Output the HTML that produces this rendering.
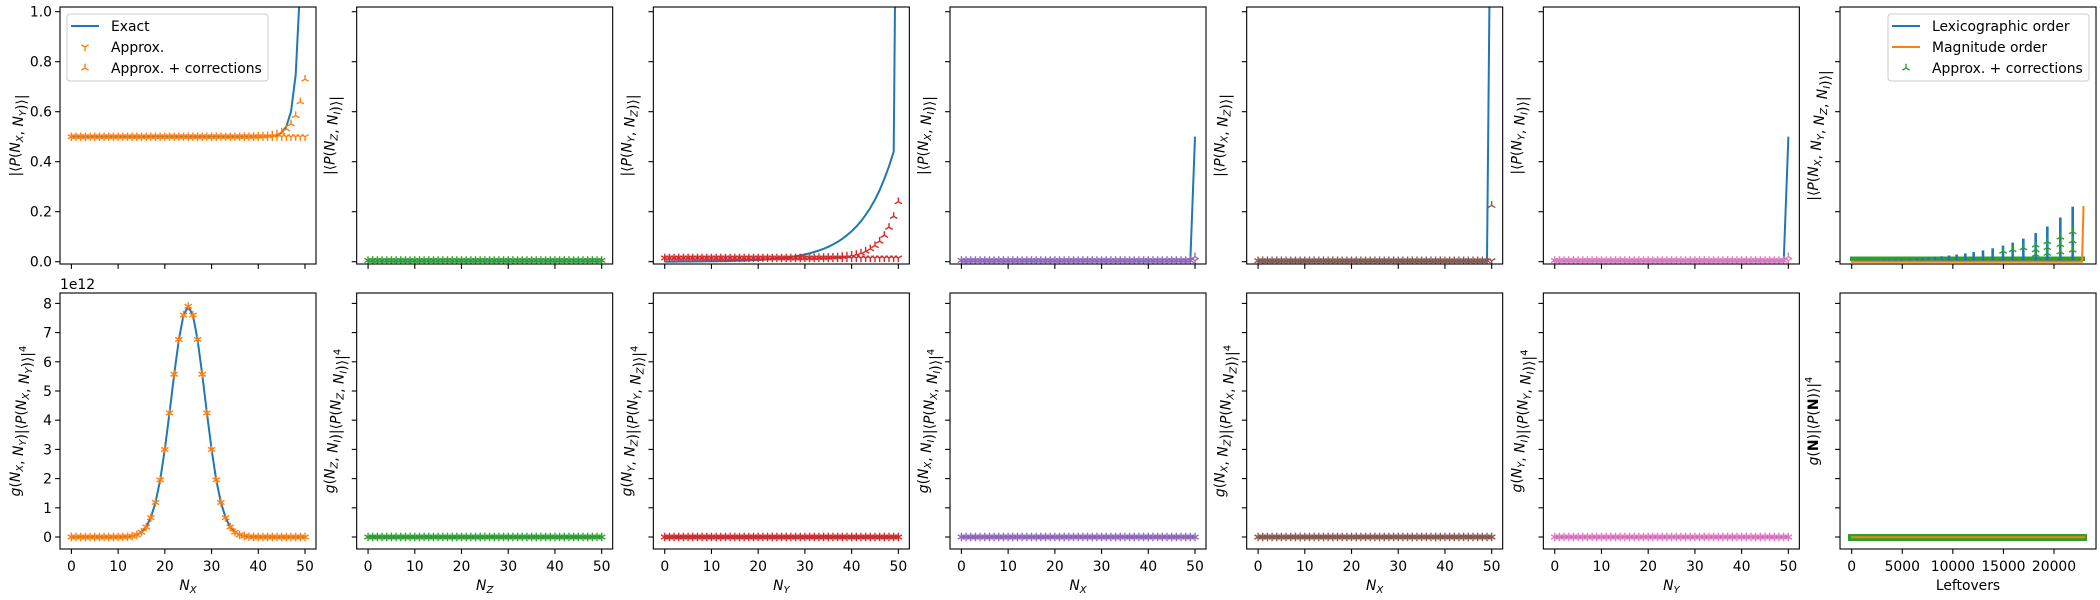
<!DOCTYPE html>
<html><head><meta charset="utf-8"><style>
body{margin:0;background:#fff}
svg{display:block;font-family:"DejaVu Sans","Liberation Sans",sans-serif}
</style></head><body>
<svg id="s" width="2100" height="600" xmlns="http://www.w3.org/2000/svg"></svg>
<script>
const S=document.getElementById('s');let h='';
const W=256,T0=7,T1=264,B0=293,B1=549;
const L=i=>60+296.67*i;
const yt=v=>261.7-250*v, yb=v=>537-29.2*v;
const cols=['#ff7f0e','#2ca02c','#d62728','#9467bd','#8c564b','#e377c2'];
const BL='#1f77b4';
function tri(x,y,c,down){const r=4.2;let d;
 if(down)d=`M${x} ${y}L${x} ${y+r}M${x} ${y}L${x-r*.866} ${y-r/2}M${x} ${y}L${x+r*.866} ${y-r/2}`;
 else d=`M${x} ${y}L${x} ${y-r}M${x} ${y}L${x-r*.866} ${y+r/2}M${x} ${y}L${x+r*.866} ${y+r/2}`;
 return `<path d="${d}" stroke="${c}" stroke-width="1.4" fill="none"/>`;}
function line(pts,c,w){return `<polyline points="${pts.map(p=>p[0].toFixed(1)+','+p[1].toFixed(1)).join(' ')}" fill="none" stroke="${c}" stroke-width="${w||2}" stroke-linejoin="round"/>`;}
const lbl=(t)=>t.replace(/N_([XYZI])/g,'<tspan font-style="italic">N</tspan><tspan font-size="10" dy="3" font-style="italic">$1</tspan><tspan dy="-3"></tspan>').replace(/P\(/g,'<tspan font-style="italic">P</tspan>(').replace(/g\(/g,'<tspan font-style="italic">g</tspan>(');
const topL=['N_X, N_Y','N_Z, N_I','N_Y, N_Z','N_X, N_I','N_X, N_Z','N_Y, N_I','N_X, N_Y, N_Z, N_I'];
const botL=['N_X, N_Y','N_Z, N_I','N_Y, N_Z','N_X, N_I','N_X, N_Z','N_Y, N_I'];
const xl=['N_X','N_Z','N_Y','N_X','N_X','N_Y'];
const xs=[];for(let i=0;i<=50;i++)xs.push(i);
// data fns
function topExact(c,x){
 if(c==0)return x<40?0.5:0.5+0.1*Math.exp((x-47)/1.1);
 if(c==2)return 0.44*Math.exp((x-49)/7)*(x==50?5:1);
 if(c==3||c==5)return x==50?0.5:0.001;
 if(c==4)return x==50?2:0.001;
 return 0.001;}
const apx=[0.5,0.005,0.015,0.005,0.004,0.005];
function topCorr(c,x){
 if(c==0)return 0.5+0.23*Math.exp((x-50)/2);
 if(c==2)return 0.015+0.225*Math.exp((x-50)/3.3);
 if(c==4)return x==50?0.225:0.004;
 if(c==3||c==5)return x==50?0.02:0.005;
 return apx[c];}
const gauss=x=>7.9*Math.exp(-(x-25)*(x-25)/(2*12.9));
for(let c=0;c<7;c++){
 const l=L(c);
 h+=`<clipPath id="ct${c}"><rect x="${l}" y="${T0}" width="${W}" height="${T1-T0}"/></clipPath><clipPath id="cb${c}"><rect x="${l}" y="${B0}" width="${W}" height="${B1-B0}"/></clipPath>`;
 // ticks
 for(let k=0;k<=5;k++){const y=yt(k*0.2);h+=`<line x1="${l-4.9}" x2="${l}" y1="${y}" y2="${y}" stroke="#000" stroke-width="1.1"/>`;
  if(c==0)h+=`<text x="${l-8}" y="${y+5}" font-size="13.9" text-anchor="end">${(k*0.2).toFixed(1)}</text>`;}
 for(let k=0;k<=8;k++){const y=yb(k);h+=`<line x1="${l-4.9}" x2="${l}" y1="${y}" y2="${y}" stroke="#000" stroke-width="1.1"/>`;
  if(c==0)h+=`<text x="${l-8}" y="${y+5}" font-size="13.9" text-anchor="end">${k}</text>`;}
 let xt;
 if(c<6)xt=[0,10,20,30,40,50].map(v=>[l+11.4+4.672*v,v]);
 else xt=[0,5000,10000,15000,20000].map(v=>[1851.7+v*202.3/20000,v]);
 for(const [x,v] of xt){
  h+=`<line x1="${x}" x2="${x}" y1="${T1}" y2="${T1+4.9}" stroke="#000" stroke-width="1.1"/>`;
  h+=`<line x1="${x}" x2="${x}" y1="${B1}" y2="${B1+4.9}" stroke="#000" stroke-width="1.1"/>`;
  h+=`<text x="${x}" y="${B1+22}" font-size="13.9" text-anchor="middle">${v}</text>`;}
 // labels
 const lx=c==0?20:l-22;
 const tl=c<6?`|⟨P(${topL[c]})⟩|`:`|⟨P(${topL[6]})⟩|`;
 h+=`<text transform="translate(${lx},${(T0+T1)/2}) rotate(-90)" font-size="13.9" text-anchor="middle">${lbl(tl)}</text>`;
 let bl=c<6?`g(${botL[c]})|⟨P(${botL[c]})⟩|<tspan font-size="10" dy="-6">4</tspan>`:`g(<tspan font-weight="bold">N</tspan>)|⟨P(<tspan font-weight="bold">N</tspan>)⟩|<tspan font-size="10" dy="-6">4</tspan>`;
 h+=`<text transform="translate(${lx},${(B0+B1)/2}) rotate(-90)" font-size="13.9" text-anchor="middle">${lbl(bl)}</text>`;
 h+=`<text x="${l+W/2}" y="${c<6?590:590}" font-size="13.9" text-anchor="middle">${c<6?lbl(xl[c]):'Leftovers'}</text>`;
 // data
 if(c<6){
  const X=v=>l+11.4+4.672*v, col=cols[c];
  let g=`<g clip-path="url(#ct${c})">`;
  g+=line(xs.map(x=>[X(x),yt(topExact(c,x))]),BL);
  for(const x of xs){g+=tri(X(x),yt(apx[c]),col,true);g+=tri(X(x),yt(topCorr(c,x)),col,false);}
  g+='</g>';
  let b=`<g clip-path="url(#cb${c})">`;
  if(c==0){b+=line(xs.map(x=>[X(x),yb(gauss(x))]),BL);for(const x of xs){b+=tri(X(x),yb(gauss(x)),col,true);b+=tri(X(x),yb(gauss(x)),col,false);}}
  else{b+=line(xs.map(x=>[X(x),yb(0)]),BL);for(const x of xs){b+=tri(X(x),yb(0),col,true);b+=tri(X(x),yb(0),col,false);}}
  b+='</g>';h+=g+b;
 } else {
  let g=`<g clip-path="url(#ct6)">`;
  const ps=[230,250,268,287,305,330,350,368,386,405,425,447,470,496,521,549,578,609,638,670,707,742,781,818];
  g+=`<rect x="1850" y="256.5" width="235" height="4.5" fill="#2ca02c"/>`;
  g+=line([[1851,261.5],[2083,261.5]],BL);
  for(const p of ps){const x=1800+p/3,v=0.22*Math.exp((p-818)/170);
   g+=`<rect x="${x-1.3}" y="${yt(v)}" width="2.6" height="${261.5-yt(v)}" fill="${BL}"/>`;
   if(p>600){const n=p>700?3:1;for(let j=0;j<n;j++)g+=tri(x,yt(v*0.5*(j+1)/n+0.01),'#2ca02c',false);}}
  g+=line([[1851,261.7],[2082,261.7],[2083.5,206]],'#ff7f0e');
  g+='</g>';
  g+=`<rect x="1848" y="534" width="239" height="7" fill="#2ca02c"/>`;
  g+=line([[1851,537.3],[2085,537.3]],'#ff7f0e');
  h+=g;
 }
 h+=`<rect x="${l}" y="${T0}" width="${W}" height="${T1-T0}" fill="none" stroke="#000" stroke-width="1.1"/>`;
 h+=`<rect x="${l}" y="${B0}" width="${W}" height="${B1-B0}" fill="none" stroke="#000" stroke-width="1.1"/>`;
}
h+=`<text x="60" y="289" font-size="13.9">1e12</text>`;
function legend(x0,x1,items){let s=`<rect x="${x0}" y="14" width="${x1-x0}" height="67" rx="3" fill="#fff" fill-opacity="0.8" stroke="#ccc"/>`;
 items.forEach((it,i)=>{const y=26+i*21;
  if(it[1]=='line')s+=`<line x1="${x0+4}" x2="${x0+32}" y1="${y}" y2="${y}" stroke="${it[2]}" stroke-width="2"/>`;
  else s+=tri(x0+18,y,it[2],it[1]=='down');
  s+=`<text x="${x0+44}" y="${y+5}" font-size="13.9">${it[0]}</text>`;});return s;}
h+=legend(67,268,[['Exact','line',BL],['Approx.','down','#ff7f0e'],['Approx. + corrections','up','#ff7f0e']]);
h+=legend(1888,2089,[['Lexicographic order','line',BL],['Magnitude order','line','#ff7f0e'],['Approx. + corrections','up','#2ca02c']]);
S.innerHTML=h;
</script>
</body></html>
